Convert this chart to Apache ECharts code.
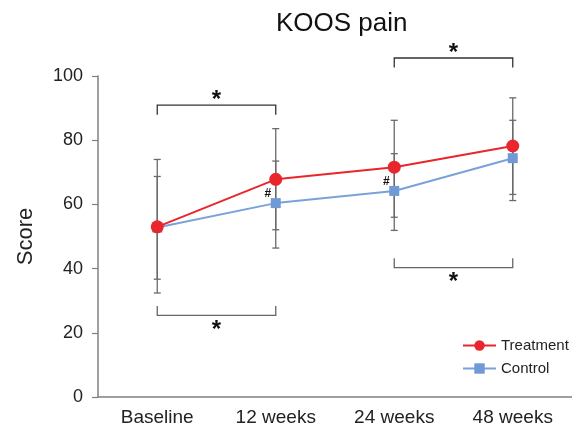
<!DOCTYPE html>
<html>
<head>
<meta charset="utf-8">
<script src="https://cdn.jsdelivr.net/npm/echarts@6/dist/echarts.min.js"></script>
<style>html,body{margin:0;padding:0;background:#fff;}#c{width:572px;height:429px;}</style>
</head>
<body>
<div id="c"></div>
<script>
var categories = ['Baseline', '12 weeks', '24 weeks', '48 weeks'];
var treatment = [53.0, 67.8, 71.6, 78.2];
var control = [52.8, 60.4, 64.2, 74.4];
var treatmentErr = [[32.4, 74.0], [52.1, 83.6], [56.0, 86.2], [63.1, 93.2]];
var controlErr = [[36.7, 68.7], [46.4, 73.5], [51.9, 75.8], [61.2, 86.2]];
var yMin = 0, yMax = 100, yInterval = 20;
// significance brackets: [startCategory, endCategory, yValue, side(1 = above, -1 = below)]
var brackets = [[0, 1, 90.9, 1], [2, 3, 105.6, 1], [0, 1, 25.4, -1], [2, 3, 40.3, -1]];
// '#' marks next to control points
var hashMarks = [1, 2];

var errData = [];
for (var i = 0; i < categories.length; i++) {
  errData.push([i, treatmentErr[i][0], treatmentErr[i][1]]);
  errData.push([i, controlErr[i][0], controlErr[i][1]]);
}
var hashData = hashMarks.map(function (i) { return [i, control[i]]; });

var chart = echarts.init(document.getElementById('c'));
var FONT = 'Liberation Sans, Arial, sans-serif';
chart.setOption({
  animation: false,
  textStyle: { fontFamily: FONT },
  title: {
    text: 'KOOS pain', left: 271, top: 6,
    textStyle: { fontSize: 26, fontWeight: 'normal', color: '#111', fontFamily: FONT }
  },
  legend: {
    data: ['Treatment', 'Control'], orient: 'vertical', left: 457, top: 333,
    itemWidth: 33, itemHeight: 13, itemGap: 8,
    textStyle: { fontSize: 15, color: '#222', fontFamily: FONT }
  },
  grid: { left: 98, right: -3, top: 76, bottom: 32 },
  xAxis: {
    type: 'category', data: categories, boundaryGap: true,
    axisLine: { lineStyle: { color: '#808080', width: 1.5 } },
    axisTick: { alignWithLabel: true, length: 6, lineStyle: { color: '#808080', width: 1.2 } },
    axisLabel: { fontSize: 19, color: '#222', margin: 11, fontFamily: FONT }
  },
  yAxis: {
    type: 'value', min: yMin, max: yMax, interval: yInterval,
    name: 'Score', nameLocation: 'middle', nameGap: 61, nameRotate: 90,
    nameTextStyle: { fontSize: 22, color: '#222', fontFamily: FONT },
    splitLine: { show: false },
    axisLine: { show: true, lineStyle: { color: '#808080', width: 1.5 } },
    axisTick: { show: true, length: 6, lineStyle: { color: '#808080', width: 1.2 } },
    axisLabel: { fontSize: 18, color: '#222', margin: 15, fontFamily: FONT }
  },
  series: [
    {
      type: 'custom', name: 'errors', z: 1, silent: true,
      data: errData,
      renderItem: function (params, api) {
        var x = api.coord([api.value(0), 0])[0];
        var lo = api.coord([api.value(0), api.value(1)])[1];
        var hi = api.coord([api.value(0), api.value(2)])[1];
        var w = 3.5;
        var st = { stroke: '#6a6a6a', lineWidth: 1.3 };
        return { type: 'group', children: [
          { type: 'line', shape: { x1: x, y1: lo, x2: x, y2: hi }, style: st },
          { type: 'line', shape: { x1: x - w, y1: lo, x2: x + w, y2: lo }, style: st },
          { type: 'line', shape: { x1: x - w, y1: hi, x2: x + w, y2: hi }, style: st }
        ]};
      }
    },
    {
      name: 'Control', type: 'line', z: 3, data: control,
      symbol: 'rect', symbolSize: 10,
      lineStyle: { color: '#7aa2d8', width: 2 },
      itemStyle: { color: '#6f9ad6' }
    },
    {
      name: 'Treatment', type: 'line', z: 4, data: treatment,
      symbol: 'circle', symbolSize: 13,
      lineStyle: { color: '#e8262c', width: 2 },
      itemStyle: { color: '#e8262c' }
    },
    {
      type: 'custom', name: 'brackets', z: 5, silent: true, clip: false,
      data: brackets,
      renderItem: function (params, api) {
        var p1 = api.coord([api.value(0), api.value(2)]);
        var p2 = api.coord([api.value(1), api.value(2)]);
        var side = api.value(3);
        var t = 9.5 * side;
        var col = side > 0 ? '#333' : '#666';
        var st = { stroke: col, lineWidth: 1.3, fill: null };
        var mx = (p1[0] + p2[0]) / 2;
        return { type: 'group', children: [
          { type: 'polyline', shape: { points: [[p1[0], p1[1] + t], [p1[0], p1[1]], [p2[0], p2[1]], [p2[0], p2[1] + t]] }, style: st },
          { type: 'text', x: mx, y: p1[1] - (side > 0 ? 5 : -15), style: {
              text: '*', fontSize: 24, fontWeight: 'bold', fill: '#111',
              fontFamily: FONT, align: 'center', verticalAlign: 'middle' } }
        ]};
      }
    },
    {
      type: 'custom', name: 'hash', z: 6, silent: true,
      data: hashData,
      renderItem: function (params, api) {
        var p = api.coord([api.value(0), api.value(1)]);
        return { type: 'text', x: p[0] - 8, y: p[1] - 9, style: {
          text: '#', fontSize: 12, fontWeight: 'bold', fill: '#111',
          fontFamily: FONT, align: 'center', verticalAlign: 'middle' } };
      }
    }
  ]
});
</script>
</body>
</html>
